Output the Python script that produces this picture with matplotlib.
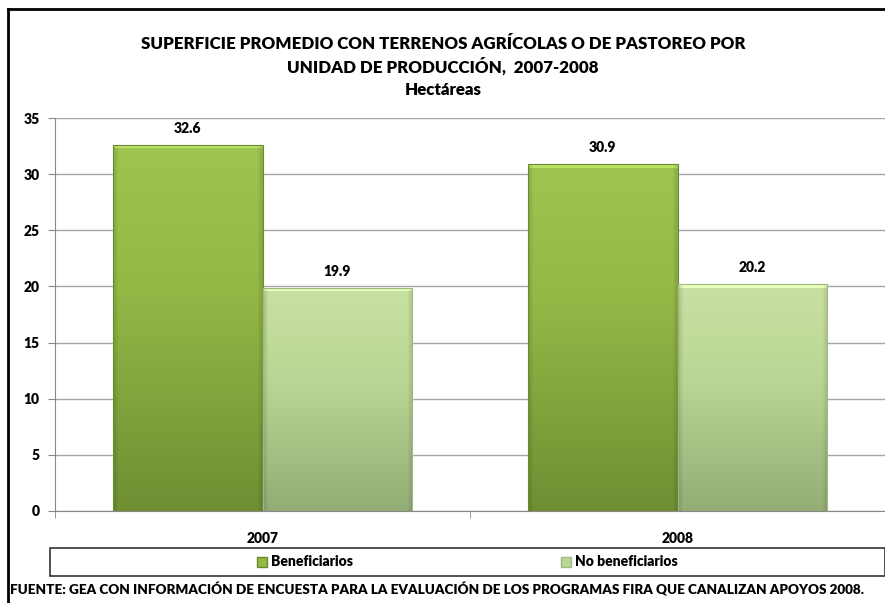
import numpy as np
import matplotlib
matplotlib.use("Agg")
import matplotlib.pyplot as plt
from matplotlib.colors import to_rgb
from matplotlib.lines import Line2D
from matplotlib.patches import Rectangle, Patch

plt.rcParams['font.family'] = ['Lato', 'DejaVu Sans']
plt.rcParams['font.weight'] = 'heavy'
WT = 'heavy'

years = ['2007', '2008']
beneficiarios = [32.6, 30.9]
no_beneficiarios = [19.9, 20.2]
series_names = ['Beneficiarios', 'No beneficiarios']
yticks = [0, 5, 10, 15, 20, 25, 30, 35]

title_lines = ['SUPERFICIE PROMEDIO CON TERRENOS AGRÍCOLAS O DE PASTOREO POR',
               'UNIDAD DE PRODUCCIÓN,  2007-2008',
               'Hectáreas']
source = ('FUENTE: GEA CON INFORMACIÓN DE ENCUESTA PARA LA EVALUACIÓN DE LOS '
          'PROGRAMAS FIRA QUE CANALIZAN APOYOS 2008.')

# top, mid, bottom colours of the gradients
grad_benef = ['#9fc450', '#93b846', '#6f8f33']
grad_nobenef = ['#c8e0a0', '#bcd795', '#93ad76']
edge_benef = '#6b8a30'
edge_nobenef = '#9fb981'

fig = plt.figure(figsize=(8.85, 6.03), dpi=100)
ax = fig.add_axes([55 / 885, 1 - 511 / 603, 830 / 885, 393 / 603])

x = np.arange(len(years))
w = 0.36


def gradient_bars(bars, cols, edge):
    for b in bars:
        x0, y0 = b.get_x(), b.get_y()
        bw, bh = b.get_width(), b.get_height()
        n = max(int(bh * 11.2), 10)
        t = np.linspace(0, 1, n)[:, None]
        c0, c1, c2 = [np.array(to_rgb(c)) for c in cols]
        img = np.where(t < 0.4, c0 + (c1 - c0) * (t / 0.4),
                       c1 + (c2 - c1) * ((t - 0.4) / 0.6))
        img = img[:, None, :].repeat(40, axis=1)
        # bevel: lighter top rows, slightly darker sides
        img[:4] = np.clip(img[:4] * 1.1 + 0.05, 0, 1)
        img[:, :1] = img[:, :1] * 0.9
        img[:, -1:] = img[:, -1:] * 0.9
        im = ax.imshow(img, extent=(x0, x0 + bw, y0, y0 + bh), aspect='auto',
                       origin='upper', zorder=2, interpolation='bilinear')
        im.set_clip_path(b)
        b.set_facecolor('none')
        b.set_edgecolor(edge)
        b.set_linewidth(0.8)
        b.set_zorder(3)


b1 = ax.bar(x - w / 2, beneficiarios, w, zorder=2)
b2 = ax.bar(x + w / 2, no_beneficiarios, w, zorder=2)
gradient_bars(b1, grad_benef, edge_benef)
gradient_bars(b2, grad_nobenef, edge_nobenef)

for bars, vals in [(b1, beneficiarios), (b2, no_beneficiarios)]:
    for b, v in zip(bars, vals):
        ax.annotate(f'{v:.1f}', (b.get_x() + b.get_width() / 2, v),
                    xytext=(0, 7), textcoords='offset points',
                    ha='center', va='bottom', fontsize=10, fontweight=WT)

ax.set_xlim(-0.5, 1.5)
ax.set_ylim(0, 35)
ax.set_yticks(yticks)
ax.set_yticklabels([str(v) for v in yticks], fontsize=10, fontweight=WT)
ax.set_xticks(x)
ax.set_xticklabels(years, fontsize=10, fontweight=WT)
ax.set_xticks([-0.5, 0.5, 1.5], minor=True)
ax.tick_params(axis='x', which='major', length=0, pad=15)
ax.tick_params(axis='x', which='minor', length=5, color='#888888')
ax.tick_params(axis='y', length=5, color='#888888', pad=6)
ax.grid(axis='y', color='#a6a6a6', linewidth=1, zorder=0)
ax.set_axisbelow(True)
for s in ['top', 'right']:
    ax.spines[s].set_visible(False)
ax.spines['left'].set_color('#888888')
ax.spines['bottom'].set_color('#888888')

for i, line in enumerate(title_lines):
    fig.text(443 / 885, 1 - (44 + 23 * i) / 603, line, ha='center',
             va='center', fontsize=12.2, fontweight=WT)

# legend box
lx0, ly0, lx1, ly1 = 50 / 885, 1 - 576 / 603, 885 / 885, 1 - 548 / 603
fig.patches.append(Rectangle((lx0, ly0), lx1 - lx0, ly1 - ly0,
                             transform=fig.transFigure, fill=False,
                             edgecolor='#333333', linewidth=1.2))
handles = [Patch(facecolor=grad_benef[1], edgecolor=edge_benef),
           Patch(facecolor=grad_nobenef[1], edgecolor=edge_nobenef)]
fig.legend(handles, series_names, loc='center',
           bbox_to_anchor=(lx0, ly0, lx1 - lx0, ly1 - ly0),
           ncol=2, frameon=False, handlelength=0.7,
           handleheight=0.7, handletextpad=0.3, columnspacing=15,
           prop={'weight': WT, 'size': 10})

fig.text(10 / 885, 1 - 589 / 603, source, ha='left', va='center',
         fontsize=9.7, fontweight=WT)

# outer frame (left and top edges visible)
fig.lines.append(Line2D([8 / 885, 8 / 885], [0, 1 - 9 / 603],
                        transform=fig.transFigure, color='black', linewidth=2))
fig.lines.append(Line2D([8 / 885, 1], [1 - 9 / 603, 1 - 9 / 603],
                        transform=fig.transFigure, color='black', linewidth=2))

fig.savefig('out.png', dpi=100)
